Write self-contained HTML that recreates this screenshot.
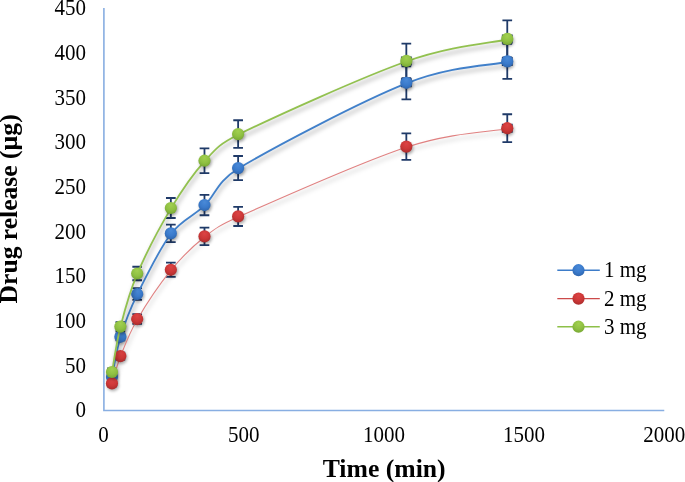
<!DOCTYPE html>
<html><head><meta charset="utf-8"><style>
html,body{margin:0;padding:0;background:#fff;}
body{width:685px;height:482px;overflow:hidden;}
svg{display:block;will-change:transform;}
text{font-family:"Liberation Serif",serif;fill:#000;}
</style></head><body>
<svg width="685" height="482" viewBox="0 0 685 482">
<defs>
<radialGradient id="g_blue" cx="50%" cy="35%" r="65%" fx="50%" fy="25%"><stop offset="0" stop-color="#4a8ad8"/><stop offset="0.6" stop-color="#3a7acb"/><stop offset="1" stop-color="#2f66ae"/></radialGradient>
<radialGradient id="g_red" cx="50%" cy="35%" r="65%" fx="50%" fy="25%"><stop offset="0" stop-color="#dc4444"/><stop offset="0.6" stop-color="#cc3737"/><stop offset="1" stop-color="#aa2d2d"/></radialGradient>
<radialGradient id="g_green" cx="50%" cy="35%" r="65%" fx="50%" fy="25%"><stop offset="0" stop-color="#a2d050"/><stop offset="0.6" stop-color="#8fc042"/><stop offset="1" stop-color="#78a834"/></radialGradient>
<filter id="lsh" x="-10%" y="-10%" width="120%" height="120%"><feGaussianBlur stdDeviation="2.2"/></filter>
<filter id="sh" x="-50%" y="-50%" width="200%" height="200%"><feGaussianBlur stdDeviation="1.6"/></filter>
</defs>
<rect width="685" height="482" fill="#fff"/>
<path d="M103.90,8.00 V410.45 H664.27" fill="none" stroke="#88aee2" stroke-width="1.6"/>
<text transform="translate(86,417.20) scale(1,1.07)" font-size="21" text-anchor="end">0</text>
<text transform="translate(86,372.53) scale(1,1.07)" font-size="21" text-anchor="end">50</text>
<text transform="translate(86,327.87) scale(1,1.07)" font-size="21" text-anchor="end">100</text>
<text transform="translate(86,283.20) scale(1,1.07)" font-size="21" text-anchor="end">150</text>
<text transform="translate(86,238.53) scale(1,1.07)" font-size="21" text-anchor="end">200</text>
<text transform="translate(86,193.87) scale(1,1.07)" font-size="21" text-anchor="end">250</text>
<text transform="translate(86,149.20) scale(1,1.07)" font-size="21" text-anchor="end">300</text>
<text transform="translate(86,104.53) scale(1,1.07)" font-size="21" text-anchor="end">350</text>
<text transform="translate(86,59.87) scale(1,1.07)" font-size="21" text-anchor="end">400</text>
<text transform="translate(86,15.20) scale(1,1.07)" font-size="21" text-anchor="end">450</text>
<text transform="translate(103.55,442) scale(1,1.07)" font-size="21" text-anchor="middle">0</text>
<text transform="translate(243.73,442) scale(1,1.07)" font-size="21" text-anchor="middle">500</text>
<text transform="translate(383.91,442) scale(1,1.07)" font-size="21" text-anchor="middle">1000</text>
<text transform="translate(524.09,442) scale(1,1.07)" font-size="21" text-anchor="middle">1500</text>
<text transform="translate(664.27,442) scale(1,1.07)" font-size="21" text-anchor="middle">2000</text>
<text x="384.2" y="476.6" font-size="25.7" font-weight="bold" text-anchor="middle">Time (min)</text>
<text transform="translate(17.3,208.9) rotate(-90)" font-size="25.6" font-weight="bold" text-anchor="middle">Drug release (µg)</text>
<path d="M111.96,374.00 V380.00 M107.11,374.00 H116.81 M107.11,380.00 H116.81 M120.37,333.30 V340.30 M115.52,333.30 H125.22 M115.52,340.30 H125.22 M137.19,288.10 V299.90 M132.34,288.10 H142.04 M132.34,299.90 H142.04 M170.84,224.60 V242.20 M165.99,224.60 H175.69 M165.99,242.20 H175.69 M204.48,194.85 V215.25 M199.63,194.85 H209.33 M199.63,215.25 H209.33 M238.12,156.00 V180.20 M233.27,156.00 H242.97 M233.27,180.20 H242.97 M406.34,66.30 V99.30 M401.49,66.30 H411.19 M401.49,99.30 H411.19 M401.84,82.80 H410.84 M401.84,78.30 V87.30 M410.84,78.30 V87.30 M507.27,43.90 V78.90 M502.42,43.90 H512.12 M502.42,78.90 H512.12 M502.77,61.40 H511.77 M502.77,56.90 V65.90 M511.77,56.90 V65.90" stroke="#1f3a68" stroke-width="1.8" fill="none"/>
<path d="M111.96,380.40 V386.40 M107.11,380.40 H116.81 M107.11,386.40 H116.81 M120.37,352.70 V359.50 M115.52,352.70 H125.22 M115.52,359.50 H125.22 M137.19,314.20 V323.90 M132.34,314.20 H142.04 M132.34,323.90 H142.04 M170.84,262.70 V276.90 M165.99,262.70 H175.69 M165.99,276.90 H175.69 M204.48,227.65 V245.15 M199.63,227.65 H209.33 M199.63,245.15 H209.33 M238.12,206.80 V226.00 M233.27,206.80 H242.97 M233.27,226.00 H242.97 M406.34,133.30 V159.90 M401.49,133.30 H411.19 M401.49,159.90 H411.19 M507.27,114.25 V142.15 M502.42,114.25 H512.12 M502.42,142.15 H512.12 M502.77,128.20 H511.77 M502.77,123.70 V132.70 M511.77,123.70 V132.70" stroke="#1f3a68" stroke-width="1.8" fill="none"/>
<path d="M111.96,368.50 V375.50 M107.11,368.50 H116.81 M107.11,375.50 H116.81 M120.37,322.10 V331.10 M115.52,322.10 H125.22 M115.52,331.10 H125.22 M137.19,266.75 V280.25 M132.34,266.75 H142.04 M132.34,280.25 H142.04 M170.84,198.00 V218.00 M165.99,198.00 H175.69 M165.99,218.00 H175.69 M204.48,148.35 V173.05 M199.63,148.35 H209.33 M199.63,173.05 H209.33 M238.12,120.25 V147.95 M233.27,120.25 H242.97 M233.27,147.95 H242.97 M406.34,43.60 V78.20 M401.49,43.60 H411.19 M401.49,78.20 H411.19 M401.84,60.90 H410.84 M401.84,56.40 V65.40 M410.84,56.40 V65.40 M507.27,20.45 V57.35 M502.42,20.45 H512.12 M502.42,57.35 H512.12 M502.77,38.90 H511.77 M502.77,34.40 V43.40 M511.77,34.40 V43.40" stroke="#1f3a68" stroke-width="1.8" fill="none"/>
<path d="M111.96,377.00 C113.36,370.30 116.17,350.63 120.37,336.80 C124.58,322.97 128.78,311.23 137.19,294.00 C145.60,276.77 159.62,248.22 170.84,233.40 C182.05,218.58 193.27,215.93 204.48,205.05 C215.69,194.17 216.75,181.04 238.12,168.10 C271.77,147.72 361.48,100.58 406.34,82.80 C451.20,65.02 490.45,64.97 507.27,61.40" stroke="#000" stroke-opacity="0.20" stroke-width="3.3" fill="none" transform="translate(1.2,4.2)" filter="url(#lsh)"/>
<path d="M111.96,377.00 C113.36,370.30 116.17,350.63 120.37,336.80 C124.58,322.97 128.78,311.23 137.19,294.00 C145.60,276.77 159.62,248.22 170.84,233.40 C182.05,218.58 193.27,215.93 204.48,205.05 C215.69,194.17 216.75,181.04 238.12,168.10 C271.77,147.72 361.48,100.58 406.34,82.80 C451.20,65.02 490.45,64.97 507.27,61.40" stroke="#4180ca" stroke-width="1.80" fill="none" transform="translate(0,0.6)"/>
<circle cx="112.96" cy="378.80" r="6.1" fill="#000" opacity="0.30" filter="url(#sh)"/><circle cx="111.96" cy="377.00" r="6.1" fill="url(#g_blue)"/>
<circle cx="121.37" cy="338.60" r="6.1" fill="#000" opacity="0.30" filter="url(#sh)"/><circle cx="120.37" cy="336.80" r="6.1" fill="url(#g_blue)"/>
<circle cx="138.19" cy="295.80" r="6.1" fill="#000" opacity="0.30" filter="url(#sh)"/><circle cx="137.19" cy="294.00" r="6.1" fill="url(#g_blue)"/>
<circle cx="171.84" cy="235.20" r="6.1" fill="#000" opacity="0.30" filter="url(#sh)"/><circle cx="170.84" cy="233.40" r="6.1" fill="url(#g_blue)"/>
<circle cx="205.48" cy="206.85" r="6.1" fill="#000" opacity="0.30" filter="url(#sh)"/><circle cx="204.48" cy="205.05" r="6.1" fill="url(#g_blue)"/>
<circle cx="239.12" cy="169.90" r="6.1" fill="#000" opacity="0.30" filter="url(#sh)"/><circle cx="238.12" cy="168.10" r="6.1" fill="url(#g_blue)"/>
<circle cx="407.34" cy="84.60" r="6.1" fill="#000" opacity="0.30" filter="url(#sh)"/><circle cx="406.34" cy="82.80" r="6.1" fill="url(#g_blue)"/>
<circle cx="508.27" cy="63.20" r="6.1" fill="#000" opacity="0.30" filter="url(#sh)"/><circle cx="507.27" cy="61.40" r="6.1" fill="url(#g_blue)"/>
<path d="M111.96,383.40 C113.36,378.85 116.17,366.83 120.37,356.10 C124.58,345.38 128.78,333.43 137.19,319.05 C145.60,304.67 159.62,283.57 170.84,269.80 C182.05,256.03 193.27,245.30 204.48,236.40 C215.69,227.50 220.24,224.35 238.12,216.40 C271.77,201.43 361.48,161.30 406.34,146.60 C451.20,131.90 490.45,131.27 507.27,128.20" stroke="#000" stroke-opacity="0.12" stroke-width="2.5" fill="none" transform="translate(1.2,4.2)" filter="url(#lsh)"/>
<path d="M111.96,383.40 C113.36,378.85 116.17,366.83 120.37,356.10 C124.58,345.38 128.78,333.43 137.19,319.05 C145.60,304.67 159.62,283.57 170.84,269.80 C182.05,256.03 193.27,245.30 204.48,236.40 C215.69,227.50 220.24,224.35 238.12,216.40 C271.77,201.43 361.48,161.30 406.34,146.60 C451.20,131.90 490.45,131.27 507.27,128.20" stroke="#e08080" stroke-width="1.05" fill="none" transform="translate(0,0.6)"/>
<circle cx="112.96" cy="385.20" r="6.1" fill="#000" opacity="0.30" filter="url(#sh)"/><circle cx="111.96" cy="383.40" r="6.1" fill="url(#g_red)"/>
<circle cx="121.37" cy="357.90" r="6.1" fill="#000" opacity="0.30" filter="url(#sh)"/><circle cx="120.37" cy="356.10" r="6.1" fill="url(#g_red)"/>
<circle cx="138.19" cy="320.85" r="6.1" fill="#000" opacity="0.30" filter="url(#sh)"/><circle cx="137.19" cy="319.05" r="6.1" fill="url(#g_red)"/>
<circle cx="171.84" cy="271.60" r="6.1" fill="#000" opacity="0.30" filter="url(#sh)"/><circle cx="170.84" cy="269.80" r="6.1" fill="url(#g_red)"/>
<circle cx="205.48" cy="238.20" r="6.1" fill="#000" opacity="0.30" filter="url(#sh)"/><circle cx="204.48" cy="236.40" r="6.1" fill="url(#g_red)"/>
<circle cx="239.12" cy="218.20" r="6.1" fill="#000" opacity="0.30" filter="url(#sh)"/><circle cx="238.12" cy="216.40" r="6.1" fill="url(#g_red)"/>
<circle cx="407.34" cy="148.40" r="6.1" fill="#000" opacity="0.30" filter="url(#sh)"/><circle cx="406.34" cy="146.60" r="6.1" fill="url(#g_red)"/>
<circle cx="508.27" cy="130.00" r="6.1" fill="#000" opacity="0.30" filter="url(#sh)"/><circle cx="507.27" cy="128.20" r="6.1" fill="url(#g_red)"/>
<path d="M111.96,372.00 C113.36,364.43 116.17,343.02 120.37,326.60 C124.58,310.18 128.78,293.27 137.19,273.50 C145.60,253.73 159.62,226.80 170.84,208.00 C182.05,189.20 193.27,173.02 204.48,160.70 C215.69,148.38 218.90,143.60 238.12,134.10 C271.77,117.47 361.48,76.77 406.34,60.90 C451.20,45.03 490.45,42.57 507.27,38.90" stroke="#000" stroke-opacity="0.20" stroke-width="3.3" fill="none" transform="translate(1.2,4.2)" filter="url(#lsh)"/>
<path d="M111.96,372.00 C113.36,364.43 116.17,343.02 120.37,326.60 C124.58,310.18 128.78,293.27 137.19,273.50 C145.60,253.73 159.62,226.80 170.84,208.00 C182.05,189.20 193.27,173.02 204.48,160.70 C215.69,148.38 218.90,143.60 238.12,134.10 C271.77,117.47 361.48,76.77 406.34,60.90 C451.20,45.03 490.45,42.57 507.27,38.90" stroke="#92c14f" stroke-width="1.80" fill="none" transform="translate(0,0.6)"/>
<circle cx="112.96" cy="373.80" r="6.1" fill="#000" opacity="0.30" filter="url(#sh)"/><circle cx="111.96" cy="372.00" r="6.1" fill="url(#g_green)"/>
<circle cx="121.37" cy="328.40" r="6.1" fill="#000" opacity="0.30" filter="url(#sh)"/><circle cx="120.37" cy="326.60" r="6.1" fill="url(#g_green)"/>
<circle cx="138.19" cy="275.30" r="6.1" fill="#000" opacity="0.30" filter="url(#sh)"/><circle cx="137.19" cy="273.50" r="6.1" fill="url(#g_green)"/>
<circle cx="171.84" cy="209.80" r="6.1" fill="#000" opacity="0.30" filter="url(#sh)"/><circle cx="170.84" cy="208.00" r="6.1" fill="url(#g_green)"/>
<circle cx="205.48" cy="162.50" r="6.1" fill="#000" opacity="0.30" filter="url(#sh)"/><circle cx="204.48" cy="160.70" r="6.1" fill="url(#g_green)"/>
<circle cx="239.12" cy="135.90" r="6.1" fill="#000" opacity="0.30" filter="url(#sh)"/><circle cx="238.12" cy="134.10" r="6.1" fill="url(#g_green)"/>
<circle cx="407.34" cy="62.70" r="6.1" fill="#000" opacity="0.30" filter="url(#sh)"/><circle cx="406.34" cy="60.90" r="6.1" fill="url(#g_green)"/>
<circle cx="508.27" cy="40.70" r="6.1" fill="#000" opacity="0.30" filter="url(#sh)"/><circle cx="507.27" cy="38.90" r="6.1" fill="url(#g_green)"/>
<path d="M557.3,270.2 H599.8" stroke="#3d7cc9" stroke-width="1.6"/>
<circle cx="578.5" cy="270.2" r="6.1" fill="url(#g_blue)"/>
<text transform="translate(604,277.10) scale(1,1.05)" font-size="21">1 mg</text>
<path d="M557.3,298.6 H599.8" stroke="#cc4a4a" stroke-width="1.1"/>
<circle cx="578.5" cy="298.6" r="6.1" fill="url(#g_red)"/>
<text transform="translate(604,305.50) scale(1,1.05)" font-size="21">2 mg</text>
<path d="M557.3,326.7 H599.8" stroke="#8dc048" stroke-width="1.6"/>
<circle cx="578.5" cy="326.7" r="6.1" fill="url(#g_green)"/>
<text transform="translate(604,333.60) scale(1,1.05)" font-size="21">3 mg</text>
</svg>
</body></html>
